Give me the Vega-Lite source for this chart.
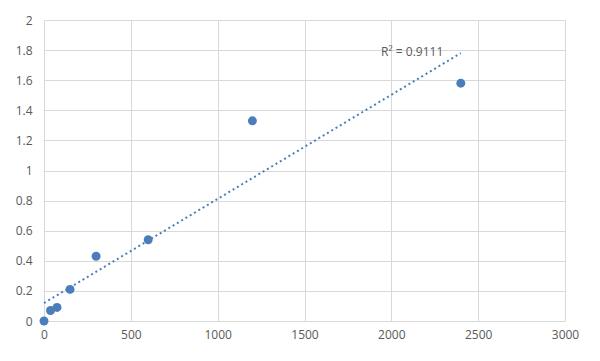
{
  "$schema": "https://vega.github.io/schema/vega-lite/v6.json",
  "autosize": "none",
  "width": 521,
  "height": 301,
  "padding": {"left": 44, "top": 20, "right": 35, "bottom": 40},
  "background": "white",
  "config": {
    "view": {"stroke": null},
    "font": "Open Sans",
    "axis": {
      "gridColor": "#d9d9d9",
      "gridWidth": 1,
      "domain": false,
      "ticks": false,
      "labelColor": "#595959",
      "labelFontSize": 12,
      "labelFont": "Open Sans",
      "labelOverlap": false,
      "labelFlush": false,
      "title": null
    }
  },
  "datasets": {
    "pts": [
      {"x": 0, "y": 0},
      {"x": 37.5, "y": 0.07},
      {"x": 75, "y": 0.09},
      {"x": 150, "y": 0.21},
      {"x": 300, "y": 0.43},
      {"x": 600, "y": 0.54},
      {"x": 1200, "y": 1.33},
      {"x": 2400, "y": 1.58}
    ],
    "note": [{"x": 2120, "y": 1.79, "label": "R² = 0.9111"}]
  },
  "encoding": {
    "x": {"field": "x", "type": "quantitative", "scale": {"domain": [0, 3000], "nice": false}, "axis": {"values": [0, 500, 1000, 1500, 2000, 2500, 3000], "labelPadding": 8, "format": "d"}},
    "y": {"field": "y", "type": "quantitative", "scale": {"domain": [0, 2], "nice": false}, "axis": {"values": [0, 0.2, 0.4, 0.6, 0.8, 1, 1.2, 1.4, 1.6, 1.8, 2], "labelPadding": 12, "format": "~r"}}
  },
  "layer": [
    {
      "data": {"name": "pts"},
      "transform": [{"regression": "y", "on": "x", "extent": [0, 2400]}],
      "mark": {"type": "line", "color": "#4a7ebb", "strokeWidth": 2, "strokeDash": [2, 3]}
    },
    {
      "data": {"name": "pts"},
      "mark": {"type": "point", "filled": true, "opacity": 1, "color": "#4a7ebb", "size": 80, "clip": false}
    },
    {
      "data": {"name": "note"},
      "mark": {"type": "text", "color": "#595959", "fontSize": 12, "align": "center", "baseline": "middle"},
      "encoding": {
        "text": {"field": "label"}
      }
    }
  ]
}
